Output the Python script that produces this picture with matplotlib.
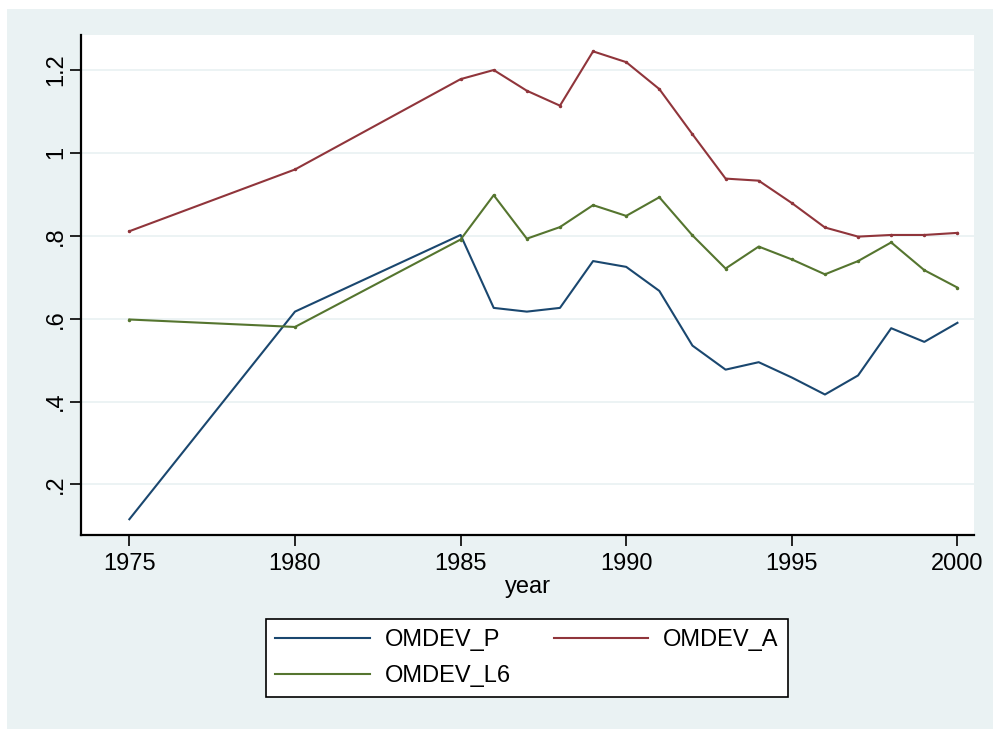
import numpy as np
import matplotlib
matplotlib.use("Agg")
import matplotlib.pyplot as plt
from matplotlib.patches import Rectangle

# values
years = [1975, 1980, 1985, 1986, 1987, 1988, 1989, 1990, 1991, 1992,
         1993, 1994, 1995, 1996, 1997, 1998, 1999, 2000]
omdev_p = [0.116, 0.617, 0.802, 0.626, 0.617, 0.626, 0.739, 0.725, 0.667, 0.535,
           0.477, 0.495, 0.458, 0.417, 0.463, 0.577, 0.544, 0.590]
omdev_a = [0.811, 0.960, 1.178, 1.200, 1.150, 1.114, 1.245, 1.219, 1.154, 1.045,
           0.938, 0.933, 0.879, 0.820, 0.798, 0.802, 0.802, 0.807]
omdev_l6 = [0.598, 0.580, 0.791, 0.898, 0.793, 0.821, 0.874, 0.848, 0.893, 0.801,
            0.721, 0.774, 0.743, 0.707, 0.739, 0.784, 0.717, 0.675]

xticks = [1975, 1980, 1985, 1990, 1995, 2000]
yticks = [0.2, 0.4, 0.6, 0.8, 1.0, 1.2]
ylabels = [".2", ".4", ".6", ".8", "1", "1.2"]

bg = "#eaf2f3"
fs = 17
plt.rcParams['font.family'] = ['Liberation Sans', 'DejaVu Sans']

W, H = 993, 729
fig = plt.figure(figsize=(W / 100, H / 100), dpi=100, facecolor="white")
# outer graph region
fig.patches.append(Rectangle((7 / W, 0), 1 - 7 / W, 1 - 9 / H,
                             transform=fig.transFigure, facecolor=bg,
                             edgecolor="none", zorder=-10))

ax = fig.add_axes([81 / W, 1 - 535 / H, (974 - 81) / W, (535 - 35) / H])
ax.set_facecolor("white")

lp, = ax.plot(years, omdev_p, color="#1a476f", lw=1.5, label="OMDEV_P")
la, = ax.plot(years, omdev_a, color="#90353b", lw=1.5, marker="o", ms=1.5,
              label="OMDEV_A")
ll, = ax.plot(years, omdev_l6, color="#55752f", lw=1.5, marker="o", ms=1.5,
              label="OMDEV_L6")

ax.set_xlim(1973.54, 2000.5)
ax.set_ylim(0.078, 1.2845)
ax.set_xticks(xticks)
ax.set_xticklabels([str(x) for x in xticks], fontsize=fs)
ax.set_yticks(yticks)
ax.set_yticklabels(ylabels, fontsize=fs, rotation=90, va="center")
ax.tick_params(length=8, width=1.2, color="black")
ax.tick_params(axis="x", pad=5)
ax.tick_params(axis="y", pad=2)
ax.grid(axis="y", color=bg, lw=1.3)
ax.set_axisbelow(True)
for s in ["top", "right"]:
    ax.spines[s].set_visible(False)
for s in ["left", "bottom"]:
    ax.spines[s].set_linewidth(1.6)
ax.set_xlabel("year", fontsize=fs, labelpad=1)

# legend fills column-first, so order gives rows: P, A / L6
leg = fig.legend([lp, ll, la], ["OMDEV_P", "OMDEV_L6", "OMDEV_A"], ncol=2,
                 loc="center", bbox_to_anchor=(527 / W, 1 - 658 / H),
                 fontsize=fs, frameon=True, fancybox=False, framealpha=1,
                 facecolor="white", edgecolor="black",
                 handlelength=4.0, columnspacing=1.8, borderpad=0.4,
                 labelspacing=0.6, handletextpad=0.65)
leg.get_frame().set_linewidth(1.2)
for h in leg.legend_handles:
    h.set_marker("")

fig.savefig("out.png", dpi=100, facecolor=fig.get_facecolor())
